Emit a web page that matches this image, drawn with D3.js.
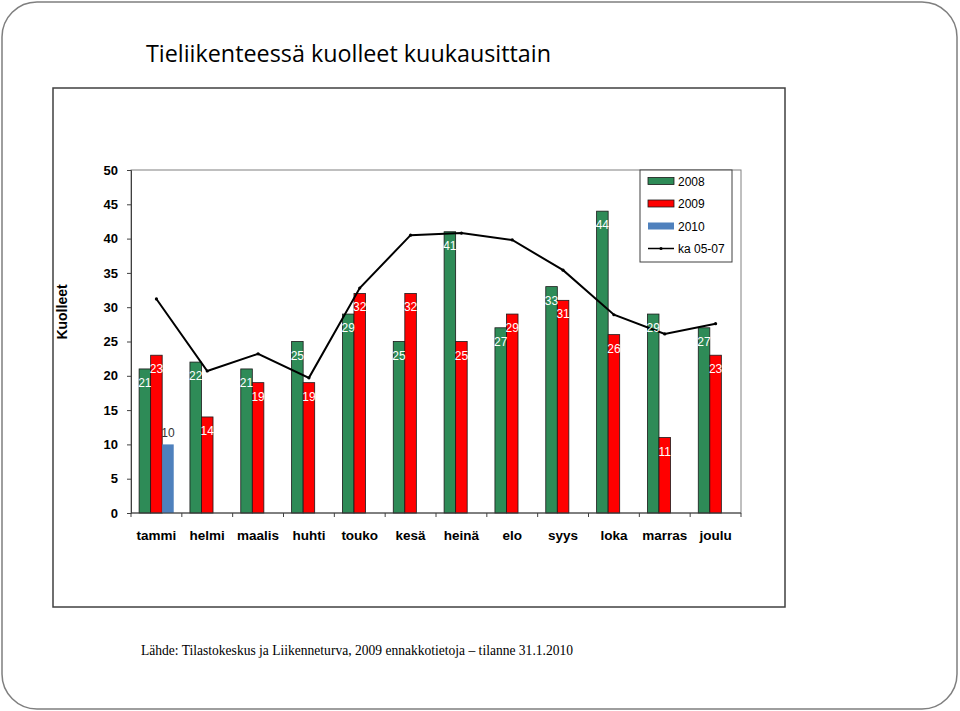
<!DOCTYPE html>
<html>
<head>
<meta charset="utf-8">
<script src="https://cdn.jsdelivr.net/npm/d3@7"></script>
<style>
  body { margin: 0; background: #fff; }
  svg { display: block; }
</style>
</head>
<body>
<svg id="chart"></svg>
<script>
/* data */
var months = ["tammi", "helmi", "maalis", "huhti", "touko", "kesä", "heinä", "elo", "syys", "loka", "marras", "joulu"];
var y2008 = [21, 22, 21, 25, 29, 25, 41, 27, 33, 44, 29, 27];
var y2009 = [23, 14, 19, 19, 32, 32, 25, 29, 31, 26, 11, 23];
var y2010 = [10, null, null, null, null, null, null, null, null, null, null, null];
var ka0507 = [31.2, 20.7, 23.2, 19.7, 32.8, 40.5, 40.8, 39.8, 35.4, 28.9, 26.1, 27.6];
var yTicks = [0, 5, 10, 15, 20, 25, 30, 35, 40, 45, 50];
var seriesNames = ["2008", "2009", "2010", "ka 05-07"];

var colors = { g: "#2e8b57", r: "#ff0000", b: "#4f81bd" };

var svg = d3.select('#chart')
    .attr('width', 960)
    .attr('height', 711);

/* slide frame */
svg.append('rect')
    .attr('x', 2).attr('y', 2)
    .attr('width', 955).attr('height', 707)
    .attr('rx', 35).attr('ry', 35)
    .style('fill', '#fff')
    .style('stroke', '#7f7f7f')
    .style('stroke-width', 1.5);

svg.append('text')
    .text('Tieliikenteessä kuolleet kuukausittain')
    .attr('x', 146).attr('y', 62)
    .attr('textLength', 405)
    .attr('lengthAdjust', 'spacingAndGlyphs')
    .attr('font-family', 'Open Sans, sans-serif')
    .attr('font-size', '24px')
    .attr('fill', '#000');

/* chart frame */
svg.append('rect')
    .attr('x', 53).attr('y', 88)
    .attr('width', 732).attr('height', 519)
    .style('fill', '#fff')
    .style('stroke', '#404040')
    .style('stroke-width', 1.5);

svg.append('text')
    .text('Lähde: Tilastokeskus ja Liikenneturva, 2009 ennakkotietoja – tilanne 31.1.2010')
    .attr('x', 141).attr('y', 655)
    .attr('textLength', 432)
    .attr('lengthAdjust', 'spacingAndGlyphs')
    .attr('font-family', 'Liberation Serif, serif')
    .attr('font-size', '15px')
    .attr('fill', '#000');

var plot = { left: 131, right: 741, top: 170, bottom: 513 };

var x = d3.scaleBand()
    .domain(months)
    .range([plot.left, plot.right]);

var y = d3.scaleLinear()
    .domain([0, 50])
    .range([plot.bottom, plot.top]);

var bw = x.bandwidth() * 0.227;
var off = (x.bandwidth() - 3 * bw) / 2;

/* plot area border */
svg.append('rect')
    .attr('x', plot.left).attr('y', plot.top)
    .attr('width', plot.right - plot.left)
    .attr('height', plot.bottom - plot.top)
    .style('fill', 'none')
    .style('stroke', '#808080')
    .style('stroke-width', 1);

/* y axis */
var yAxis = svg.append('g')
    .attr('transform', `translate(${plot.left},0)`)
    .call(d3.axisLeft(y).tickValues(yTicks).tickSize(4).tickPadding(9));
yAxis.select('.domain').attr('stroke', '#404040');
yAxis.selectAll('.tick line').attr('stroke', '#404040');
yAxis.selectAll('text')
    .attr('font-family', 'Arial, Liberation Sans, sans-serif')
    .attr('font-size', '13px')
    .attr('font-weight', 'bold')
    .attr('fill', '#000');

svg.append('text')
    .text('Kuolleet')
    .attr('transform', 'translate(67,312) rotate(-90)')
    .attr('text-anchor', 'middle')
    .attr('font-family', 'Arial, Liberation Sans, sans-serif')
    .attr('font-size', '14px')
    .attr('font-weight', 'bold')
    .attr('fill', '#000');

/* bars */
function drawBars(values, idx, color) {
    var data = months.map((m, i) => ({ m: m, v: values[i] })).filter(d => d.v !== null);
    svg.append('g')
        .selectAll('rect')
        .data(data)
        .enter()
        .append('rect')
        .attr('x', d => x(d.m) + off + idx * bw)
        .attr('y', d => y(d.v))
        .attr('width', bw)
        .attr('height', d => y(0) - y(d.v))
        .style('fill', color)
        .style('stroke', idx === 2 ? 'none' : '#1a1a1a')
        .style('stroke-width', 0.8);
    return data;
}

function drawLabels(data, idx, inside) {
    svg.append('g')
        .selectAll('text')
        .data(data)
        .enter()
        .append('text')
        .text(d => d.v)
        .attr('x', d => x(d.m) + off + idx * bw + bw / 2)
        .attr('y', d => inside ? y(d.v) + 18 : y(d.v) - 7)
        .attr('text-anchor', 'middle')
        .attr('font-family', 'Arial, Liberation Sans, sans-serif')
        .attr('font-size', '12px')
        .attr('fill', inside ? '#fff' : '#333');
}

var d08 = drawBars(y2008, 0, colors.g);
var d09 = drawBars(y2009, 1, colors.r);
var d10 = drawBars(y2010, 2, colors.b);

/* x axis */
var xAxis = svg.append('g')
    .attr('transform', `translate(0,${plot.bottom})`);
xAxis.append('line')
    .attr('x1', plot.left).attr('x2', plot.right)
    .attr('stroke', '#404040');
xAxis.selectAll('line.tk')
    .data(months.concat(['end']))
    .enter()
    .append('line')
    .attr('class', 'tk')
    .attr('x1', d => d === 'end' ? plot.right : x(d))
    .attr('x2', d => d === 'end' ? plot.right : x(d))
    .attr('y1', 0).attr('y2', 4)
    .attr('stroke', '#404040');
xAxis.selectAll('text')
    .data(months)
    .enter()
    .append('text')
    .text(d => d)
    .attr('x', d => x(d) + x.bandwidth() / 2)
    .attr('y', 27)
    .attr('text-anchor', 'middle')
    .attr('font-family', 'Arial, Liberation Sans, sans-serif')
    .attr('font-size', '13.5px')
    .attr('font-weight', 'bold')
    .attr('fill', '#000');

/* average line */
var line = d3.line()
    .x((d, i) => x(months[i]) + x.bandwidth() / 2)
    .y(d => y(d));

svg.append('path')
    .datum(ka0507)
    .attr('d', line)
    .style('fill', 'none')
    .style('stroke', '#000')
    .style('stroke-width', 2);

svg.append('g')
    .selectAll('circle')
    .data(ka0507)
    .enter()
    .append('circle')
    .attr('cx', (d, i) => x(months[i]) + x.bandwidth() / 2)
    .attr('cy', d => y(d))
    .attr('r', 1.6)
    .style('fill', '#000');

drawLabels(d08, 0, true);
drawLabels(d09, 1, true);
drawLabels(d10, 2, false);

/* legend */
var legend = svg.append('g');
legend.append('rect')
    .attr('x', 640).attr('y', 170)
    .attr('width', 92).attr('height', 92)
    .style('fill', '#fff')
    .style('stroke', '#404040')
    .style('stroke-width', 1);

var legColors = [colors.g, colors.r, colors.b];
var items = legend.selectAll('g.item')
    .data(seriesNames)
    .enter()
    .append('g')
    .attr('class', 'item')
    .attr('transform', (d, i) => `translate(648,${181 + i * 22.5})`);

items.each(function(d, i) {
    var g = d3.select(this);
    if (i < 3) {
        g.append('rect')
            .attr('x', 0).attr('y', -3.5)
            .attr('width', 26).attr('height', 7)
            .style('fill', legColors[i])
            .style('stroke', i === 2 ? 'none' : '#1a1a1a')
            .style('stroke-width', 0.8);
    } else {
        g.append('line')
            .attr('x1', 0).attr('x2', 26)
            .attr('stroke', '#000').attr('stroke-width', 1.5);
        g.append('circle')
            .attr('cx', 13).attr('r', 1.6)
            .style('fill', '#000');
    }
    g.append('text')
        .text(d)
        .attr('x', 30).attr('y', 4.5)
        .attr('font-family', 'Arial, Liberation Sans, sans-serif')
        .attr('font-size', '12px')
        .attr('fill', '#000');
});
</script>
</body>
</html>
